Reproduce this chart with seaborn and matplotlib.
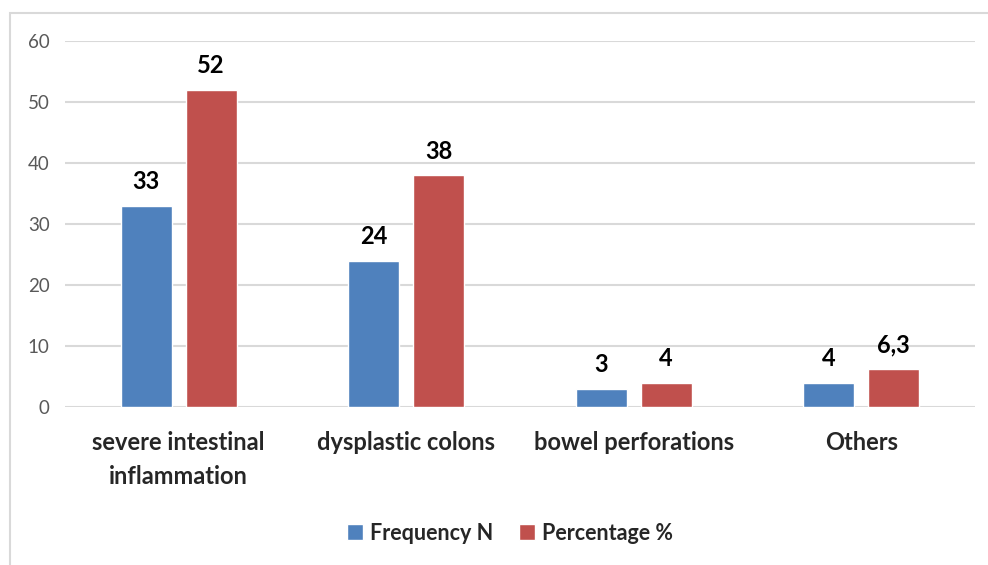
import matplotlib
matplotlib.use("Agg")
import matplotlib.pyplot as plt
import seaborn as sns
import pandas as pd
from matplotlib.patches import Rectangle

categories = ["severe intestinal\ninflammation", "dysplastic colons", "bowel perforations", "Others"]
frequency = [33, 24, 3, 4]
percentage = [52, 38, 4, 6.3]
labels_freq = ["33", "24", "3", "4"]
labels_pct = ["52", "38", "4", "6,3"]
series = ["Frequency N", "Percentage %"]
yticks = [0, 10, 20, 30, 40, 50, 60]

sns.set_theme(style="white")
plt.rcParams['font.family'] = ['Lato', 'DejaVu Sans']

df = pd.DataFrame({
    "category": categories * 2,
    "value": frequency + percentage,
    "series": [series[0]] * 4 + [series[1]] * 4,
})

fig = plt.figure(figsize=(9.88, 5.65), dpi=100)
ax = fig.add_axes([65/988, 1-407/565, (975-65)/988, (407-41)/565])

palette = {series[0]: "#4F81BD", series[1]: "#C0504D"}
sns.barplot(data=df, x="category", y="value", hue="series", palette=palette,
            width=0.571, gap=0.215, saturation=1, ax=ax, legend=True, zorder=3)

ax.set_ylim(0, 60)
ax.set_yticks(yticks)
ax.set_xlim(-0.5, 3.5)
ax.yaxis.grid(True, color="#D9D9D9", linewidth=1.5, zorder=0)
ax.set_axisbelow(True)
for s in ax.spines.values():
    s.set_visible(False)
ax.set_xlabel("")
ax.set_ylabel("")
ax.tick_params(axis="y", length=0, pad=11, labelsize=13.5, labelcolor="#595959")
ax.tick_params(axis="x", length=0, pad=17, labelsize=17)
for t in ax.get_xticklabels():
    t.set_fontweight("bold")
    t.set_linespacing(1.6)

for cont, labs in zip(ax.containers, [labels_freq, labels_pct]):
    ax.bar_label(cont, labels=labs, padding=9, fontsize=17, fontweight="bold", color="black")

handles, lbls = ax.get_legend_handles_labels()
leg = fig.legend(handles, lbls, loc="center", bbox_to_anchor=(510/988, 1-533/565), ncol=2,
                 frameon=False, handlelength=0.75, handleheight=0.75,
                 columnspacing=1.15, handletextpad=0.35, prop={"weight": "bold", "size": 15.5})
ax.get_legend().remove()

fig.patches.append(Rectangle((10/988, -0.1), 1.2, 1-13/565+0.1, transform=fig.transFigure,
                             fill=False, edgecolor="#D9D9D9", linewidth=1.5))

fig.savefig("out.png", dpi=100)
